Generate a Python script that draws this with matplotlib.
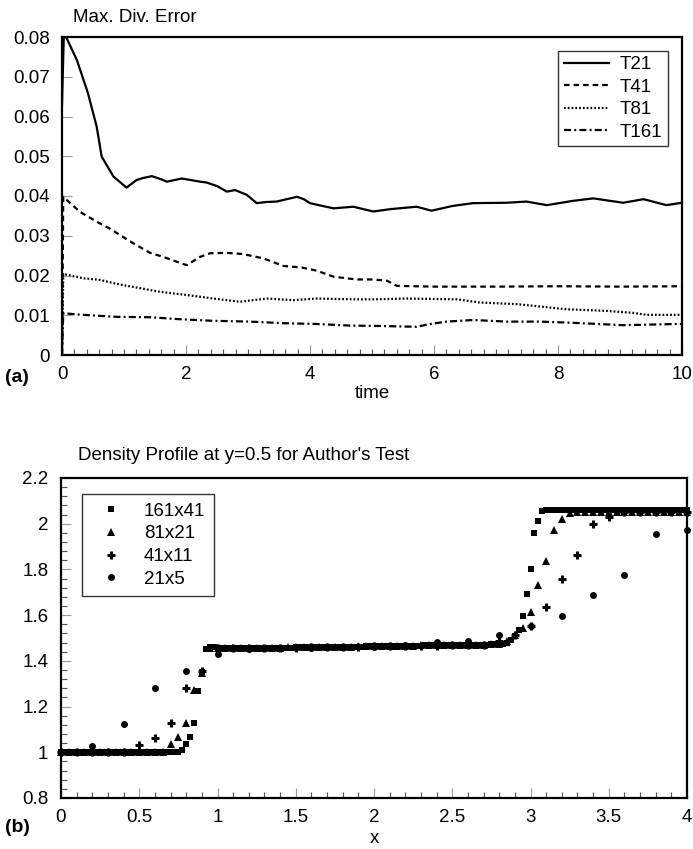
import numpy as np
import matplotlib
matplotlib.use("Agg")
import matplotlib.pyplot as plt
from matplotlib.ticker import MultipleLocator

plt.rcParams['font.family'] = ['Liberation Sans', 'DejaVu Sans']

# ---------------- (a) Max. Div. Error ----------------
t21_t = [0, 0.03, 0.075, 0.24, 0.42, 0.56, 0.64, 0.83, 1.04, 1.2, 1.3, 1.45, 1.6, 1.69, 1.93, 2.23, 2.33, 2.5,
         2.66, 2.79, 2.98, 3.14, 3.3, 3.46, 3.79, 3.9, 4.0, 4.2, 4.38, 4.7, 5.02, 5.3, 5.72, 5.96, 6.3, 6.63,
         7.17, 7.49, 7.82, 8.25, 8.57, 9.05, 9.38, 9.75, 10.0]
t21_v = [0.063, 0.081, 0.0797, 0.0742, 0.0658, 0.0574, 0.0499, 0.0449, 0.0421, 0.0440, 0.0445, 0.0450, 0.0442,
         0.0436, 0.0444, 0.0436, 0.0434, 0.0425, 0.0411, 0.0415, 0.0403, 0.0382, 0.0385, 0.0386, 0.0398, 0.0392,
         0.0382, 0.0375, 0.0369, 0.0373, 0.0361, 0.0367, 0.0373, 0.0363, 0.0375, 0.0382, 0.0383, 0.0386, 0.0377,
         0.0388, 0.0394, 0.0383, 0.0392, 0.0377, 0.0383]

t41_t = [0, 0.02, 0.29, 0.61, 0.77, 1.15, 1.42, 1.63, 1.9, 2.01, 2.23, 2.39, 2.66, 2.92, 3.25, 3.57, 3.87, 4.11,
         4.38, 4.75, 5.02, 5.24, 5.4, 6.0, 7.0, 8.0, 9.0, 10.0]
t41_v = [0.0, 0.0398, 0.0360, 0.0331, 0.0318, 0.0281, 0.0257, 0.0247, 0.0232, 0.0226, 0.0247, 0.0256, 0.0257,
         0.0254, 0.0243, 0.0224, 0.0220, 0.0212, 0.0197, 0.0190, 0.0190, 0.0187, 0.0174, 0.0172, 0.0172, 0.0173,
         0.0172, 0.0173]

t81_t = [0, 0.02, 0.34, 0.61, 0.88, 1.26, 1.58, 2.01, 2.44, 2.87, 3.3, 3.73, 4.11, 4.75, 5.02, 5.56, 6.37, 6.74,
         7.33, 7.71, 8.14, 8.78, 9.21, 9.43, 10.0]
t81_v = [0.0, 0.0204, 0.0193, 0.0189, 0.0179, 0.0168, 0.0159, 0.0151, 0.0142, 0.0134, 0.0142, 0.0138, 0.0142,
         0.0140, 0.0140, 0.0142, 0.0140, 0.0132, 0.0128, 0.0122, 0.0115, 0.0111, 0.0106, 0.0101, 0.0101]

t161_t = [0, 0.02, 0.34, 0.88, 1.42, 1.9, 2.44, 3.03, 3.57, 4.11, 4.65, 5.13, 5.72, 5.94, 6.2, 6.63, 7.17, 7.71,
          8.25, 9.05, 9.91, 10.0]
t161_v = [0.0, 0.0105, 0.0101, 0.0096, 0.0095, 0.0090, 0.0086, 0.0084, 0.0080, 0.0078, 0.0074, 0.0073, 0.0071,
          0.0078, 0.0084, 0.0088, 0.0084, 0.0084, 0.0081, 0.0075, 0.0078, 0.0078]

series_a = ["T21", "T41", "T81", "T161"]

# ---------------- (b) Density profile ----------------
rho_161x41 = [
    1.000, 1.000, 1.000, 1.000, 1.000, 1.000, 1.000, 1.000, 1.000, 1.000,
    1.000, 1.000, 1.000, 1.000, 1.000, 1.000, 1.000, 1.000, 1.000, 1.000,
    1.000, 1.000, 1.000, 1.000, 1.000, 1.000, 1.000, 1.000, 1.000, 1.000,
    1.000, 1.008,
    1.036, 1.065, 1.127, 1.268, 1.350, 1.452,
    1.462, 1.460, 1.458, 1.457, 1.456, 1.456, 1.456, 1.456, 1.456, 1.456, 1.456,
    1.456, 1.456, 1.457, 1.457, 1.457, 1.457, 1.458, 1.458, 1.458, 1.458,
    1.458, 1.459, 1.459, 1.459, 1.459, 1.459, 1.460, 1.460, 1.460, 1.460,
    1.460, 1.461, 1.461, 1.461, 1.461, 1.462, 1.462, 1.462, 1.462, 1.463,
    1.463, 1.463, 1.464, 1.464, 1.464, 1.465, 1.465, 1.465, 1.466, 1.466,
    1.466, 1.467, 1.467, 1.467, 1.468, 1.468, 1.468, 1.468, 1.469, 1.469,
    1.469, 1.469, 1.470, 1.470, 1.470, 1.470, 1.470, 1.471, 1.471, 1.471,
    1.471, 1.472, 1.472, 1.473, 1.475,
    1.480, 1.490, 1.510, 1.535, 1.596, 1.692, 1.800, 1.958, 2.013, 2.055,
    2.062, 2.062, 2.062, 2.062, 2.062, 2.062, 2.062, 2.062, 2.062, 2.062,
    2.062, 2.062, 2.062, 2.062, 2.062, 2.062, 2.062, 2.062, 2.062, 2.062,
    2.062, 2.062, 2.062, 2.062, 2.062, 2.062, 2.062, 2.062, 2.062, 2.062,
    2.062, 2.062, 2.062, 2.062, 2.062, 2.062, 2.062]

rho_81x21 = [
    1.000, 1.000, 1.000, 1.000, 1.000, 1.000, 1.000, 1.000, 1.000, 1.000,
    1.000, 1.000, 1.000, 1.000,
    1.035, 1.065, 1.130, 1.272, 1.348, 1.455,
    1.456, 1.456, 1.456, 1.456, 1.457, 1.457, 1.458, 1.458, 1.458, 1.459,
    1.459, 1.460, 1.460, 1.460, 1.461, 1.461, 1.462, 1.462, 1.463, 1.463,
    1.464, 1.465, 1.465, 1.466, 1.467, 1.467, 1.468, 1.468, 1.469, 1.469,
    1.470, 1.470, 1.470, 1.471, 1.471, 1.472, 1.474,
    1.485, 1.513, 1.542, 1.615, 1.732, 1.838, 1.972, 2.019, 2.045,
    2.052, 2.052, 2.052, 2.052, 2.052, 2.052, 2.052, 2.052, 2.052, 2.052,
    2.052, 2.052, 2.052, 2.052, 2.052]

rho_41x11 = [
    1.000, 1.000, 1.000, 1.000, 1.003,
    1.032, 1.061, 1.127, 1.280, 1.355, 1.455,
    1.456, 1.456, 1.457, 1.458, 1.458, 1.459, 1.460, 1.461, 1.462, 1.463,
    1.464, 1.465, 1.466, 1.467, 1.468, 1.469, 1.470,
    1.485, 1.513, 1.552, 1.637, 1.757, 1.863, 1.997, 2.028,
    2.050, 2.050, 2.050, 2.050, 2.050]

rho_21x5 = [1.000, 1.027, 1.124, 1.282, 1.355, 1.430, 1.452, 1.455, 1.458, 1.460, 1.462,
            1.468, 1.484, 1.488, 1.513, 1.552, 1.596, 1.688, 1.775, 1.953, 1.972]

series_b = ["161x41", "81x21", "41x11", "21x5"]

# ---------------- figure ----------------
fig = plt.figure(figsize=(6.93, 8.49), dpi=100)

ax1 = fig.add_axes([62/693, 1-355/849, 620/693, 318/849])
lw = 1.6
ax1.plot(t21_t, t21_v, color='black', lw=lw, ls='-', label=series_a[0])
ax1.plot(t41_t, t41_v, color='black', lw=lw, ls=(0, (2.5, 1.8)), label=series_a[1])
ax1.plot(t81_t, t81_v, color='black', lw=lw, ls=(0, (0.8, 0.9)), label=series_a[2])
ax1.plot(t161_t, t161_v, color='black', lw=lw, ls=(0, (3.2, 1.4, 0.9, 1.4)), label=series_a[3])
ax1.set_xlim(0, 10)
ax1.set_ylim(0, 0.08)
ax1.set_xticks([0, 2, 4, 6, 8, 10])
ax1.set_xticklabels(['0', '2', '4', '6', '8', '10'])
ax1.set_yticks([0, 0.01, 0.02, 0.03, 0.04, 0.05, 0.06, 0.07, 0.08])
ax1.set_yticklabels(['0', '0.01', '0.02', '0.03', '0.04', '0.05', '0.06', '0.07', '0.08'])
ax1.xaxis.set_minor_locator(MultipleLocator(0.2))
leg1 = ax1.legend(loc='upper left', bbox_to_anchor=(0.80, 0.957), fontsize=13.5, frameon=True,
                  fancybox=False, edgecolor='black', handlelength=2.4, handletextpad=0.6,
                  labelspacing=0.28, borderpad=0.3, borderaxespad=0)
leg1.get_frame().set_linewidth(1.0)
ax1.set_xlabel('time', fontsize=13.5, labelpad=1)

ax2 = fig.add_axes([61/693, 1-798/849, 626/693, 320/849])
x161 = np.linspace(0, 4, 161)
x81 = np.linspace(0, 4, 81)
x41 = np.linspace(0, 4, 41)
x21 = np.linspace(0, 4, 21)
ax2.plot(x161, rho_161x41, ls='none', marker='s', ms=3.8, color='black', mew=0, label=series_b[0], clip_on=False)
ax2.plot(x81, rho_81x21, ls='none', marker='^', ms=5.6, color='black', mew=0, label=series_b[1], clip_on=False)
ax2.plot(x41, rho_41x11, ls='none', marker='+', ms=5.5, color='black', mew=2.2, label=series_b[2], clip_on=False)
ax2.plot(x21, rho_21x5, ls='none', marker='o', ms=5.0, color='black', mew=0, label=series_b[3], clip_on=False)
ax2.set_xlim(0, 4)
ax2.set_ylim(0.8, 2.2)
ax2.set_xticks([0, 0.5, 1, 1.5, 2, 2.5, 3, 3.5, 4])
ax2.set_xticklabels(['0', '0.5', '1', '1.5', '2', '2.5', '3', '3.5', '4'])
ax2.set_yticks([0.8, 1.0, 1.2, 1.4, 1.6, 1.8, 2.0, 2.2])
ax2.set_yticklabels(['0.8', '1', '1.2', '1.4', '1.6', '1.8', '2', '2.2'])
ax2.xaxis.set_minor_locator(MultipleLocator(0.1))
ax2.yaxis.set_minor_locator(MultipleLocator(0.04))
leg2 = ax2.legend(loc='upper left', bbox_to_anchor=(0.0335, 0.95), fontsize=13.5, frameon=True,
                  fancybox=False, edgecolor='black', numpoints=1, handlelength=2.2, handletextpad=0.66,
                  labelspacing=0.3, borderpad=0.45, borderaxespad=0)
leg2.get_frame().set_linewidth(1.0)
ax2.set_xlabel('x', fontsize=13.5, labelpad=3)

for ax in (ax1, ax2):
    for s in ax.spines.values():
        s.set_linewidth(1.6)
    ax.tick_params(which='major', direction='in', length=7, width=0.8, color='#999999',
                   labelsize=13.5, pad=8)
    ax.tick_params(which='minor', direction='in', length=4, width=0.8, color='#555555')
    ax.tick_params(axis='y', which='major', pad=9)

fig.text(73/693, 1-22/849, 'Max. Div. Error', fontsize=13.5, ha='left', va='baseline')
fig.text(78/693, 1-460/849, "Density Profile at y=0.5 for Author's Test", fontsize=13.5, ha='left', va='baseline')
fig.text(5/693, 1-382/849, '(a)', fontsize=14, fontweight='bold', ha='left', va='baseline')
fig.text(5/693, 1-832/849, '(b)', fontsize=14, fontweight='bold', ha='left', va='baseline')

fig.savefig('out.png', dpi=100)
